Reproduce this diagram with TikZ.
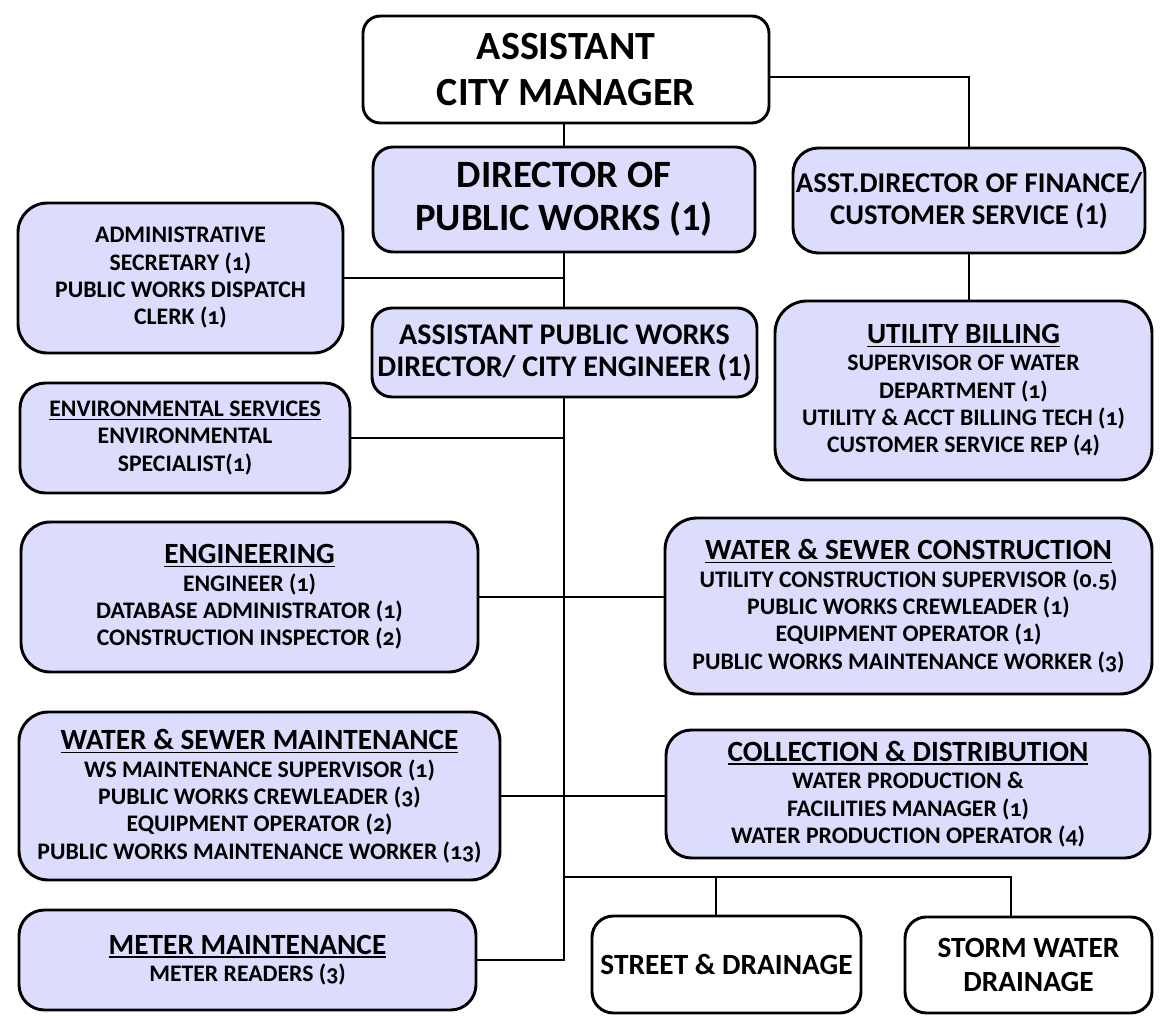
\documentclass[tikz,border=0pt]{standalone}
\usepackage{fontspec}
\setmainfont{Carlito}
\newfontfamily\osf{Carlito}[Numbers=OldStyle]
\definecolor{boxfill}{RGB}{220,221,252}
\newcommand\myul[1]{\setbox0\hbox{#1}\leavevmode\rlap{\rule[-2.6pt]{\wd0}{1.1pt}}\box0}
\newcommand\orgbox[7]{%
  \node[#2, minimum width={(#5-#3)*0.75pt}, minimum height={(#6-#4)*0.75pt}]
    (#1) at ({(#3+#5)/2},{(#4+#6)/2}) {#7};}
\newcommand\ttl[1]{{\fontsize{22}{20.5}\selectfont\myul{#1}}}
\begin{document}
\begin{tikzpicture}[x=0.75pt,y=-0.75pt,
  base/.style={draw=black, line width=2.2pt, align=center, inner sep=0pt, rounded corners=19pt},
  lav/.style={base, fill=boxfill},
  wht/.style={base, fill=white},
  bigtxt/.style={font=\bfseries\fontsize{29}{32}\selectfont},
  midtxt/.style={font=\bfseries\fontsize{21.5}{24}\selectfont},
  smalltxt/.style={font=\bfseries\osf\fontsize{17.8}{20.5}\selectfont},
  conn/.style={line width=1.8pt, line join=miter},
  fconn/.style={line width=1.3pt, line join=miter}]
\useasboundingbox (0,0) rectangle (1160,1016);

\orgbox{acm}{wht,bigtxt,font=\bfseries\fontsize{30}{34}\selectfont,rounded corners=13pt}{363}{16}{769}{123}{ASSISTANT\\CITY MANAGER}
\orgbox{dpw}{lav,bigtxt,rounded corners=15pt}{373}{147}{755}{252}{DIRECTOR OF\\PUBLIC WORKS (1)}
\orgbox{ad}{lav,midtxt}{793}{148}{1145}{253}{ASST.DIRECTOR OF FINANCE/\\CUSTOMER SERVICE (1)}
\orgbox{admin}{lav,smalltxt,rounded corners=22pt}{18}{203}{343}{353}{ADMINISTRATIVE\\SECRETARY (1)\\PUBLIC WORKS DISPATCH\\CLERK (1)}
\orgbox{aspw}{lav,midtxt,font=\bfseries\fontsize{22.5}{24}\selectfont,rounded corners=15pt}{372}{308}{757}{397}{ASSISTANT PUBLIC WORKS\\DIRECTOR/ CITY ENGINEER (1)}
\orgbox{ub}{lav,smalltxt,rounded corners=24pt}{775}{301}{1152}{480}{\ttl{UTILITY BILLING}\\SUPERVISOR OF WATER\\DEPARTMENT (1)\\UTILITY \& ACCT BILLING TECH (1)\\CUSTOMER SERVICE REP (4)}
\orgbox{env}{lav,smalltxt}{20}{383}{350}{493}{\myul{ENVIRONMENTAL SERVICES}\\ENVIRONMENTAL\\SPECIALIST(1)}
\orgbox{eng}{lav,smalltxt,rounded corners=22pt}{21}{522}{478}{672}{\ttl{ENGINEERING}\\ENGINEER (1)\\DATABASE ADMINISTRATOR (1)\\CONSTRUCTION INSPECTOR (2)}
\orgbox{wsc}{lav,smalltxt,rounded corners=24pt}{665}{518}{1152}{694}{\ttl{WATER \& SEWER CONSTRUCTION}\\UTILITY CONSTRUCTION SUPERVISOR (0.5)\\PUBLIC WORKS CREWLEADER (1)\\EQUIPMENT OPERATOR (1)\\PUBLIC WORKS MAINTENANCE WORKER (3)}
\orgbox{wsm}{lav,smalltxt,rounded corners=22pt}{19}{712}{500}{880}{\ttl{WATER \& SEWER MAINTENANCE}\\WS MAINTENANCE SUPERVISOR (1)\\PUBLIC WORKS CREWLEADER (3)\\EQUIPMENT OPERATOR (2)\\PUBLIC WORKS MAINTENANCE WORKER (13)}
\orgbox{cd}{lav,smalltxt}{666}{730}{1150}{858}{\ttl{COLLECTION \& DISTRIBUTION}\\WATER PRODUCTION \&\\FACILITIES MANAGER (1)\\WATER PRODUCTION OPERATOR (4)}
\orgbox{mm}{lav,smalltxt}{19}{910}{476}{1010}{\ttl{METER MAINTENANCE}\\METER READERS (3)}
\orgbox{street}{wht,font=\bfseries\fontsize{22}{24}\selectfont,rounded corners=16pt}{592}{916}{861}{1013}{STREET \& DRAINAGE}
\orgbox{storm}{wht,font=\bfseries\fontsize{22}{25}\selectfont,rounded corners=16pt}{905}{917}{1152}{1013}{STORM WATER\\DRAINAGE}

% connectors
\draw[conn] (dpw.north) -- (dpw.north |- acm.south);
\draw[conn] (dpw.south) -- (dpw.south |- aspw.north);
\draw[conn] (admin.east) -- (admin.east -| dpw.south);
\coordinate (jb) at (dpw.south |- mm.east);
\draw[conn] (dpw.south |- aspw.south) -- (jb) -- (mm.east);
\draw[conn] (env.east) -- (env.east -| dpw.south);
\draw[conn] (eng.east) -- (eng.east -| wsc.west);
\draw[conn] (wsm.east) -- (wsm.east -| cd.west);
\coordinate (jh) at (dpw.south |- 0,877);
\coordinate (d1) at (716,877);
\coordinate (d2) at (1011,877);
\draw[conn] (jh) -- (d2) -- (d2 |- storm.north);
\draw[conn] (d1) -- (d1 |- street.north);
\path (acm.east) ++(0,7.5) coordinate (ae);
\draw[fconn] (ae) -| (ad.north);
\draw[fconn] (ad.south) -- (ad.south |- ub.north);
\end{tikzpicture}
\end{document}
